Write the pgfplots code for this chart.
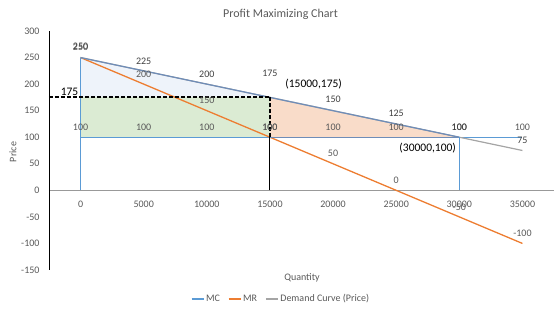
\documentclass[border=0pt]{standalone}
\usepackage{fontspec}
\setmainfont{Carlito}
\usepackage{pgfplots}
\pgfplotsset{compat=1.18}
\definecolor{mcblue}{HTML}{5B9BD5}
\definecolor{mrorange}{HTML}{ED7D31}
\definecolor{dgray}{HTML}{A5A5A5}
\definecolor{slate}{HTML}{6F8DB8}
\definecolor{fillblue}{HTML}{EEF3FA}
\definecolor{fillgreen}{HTML}{DBEBD3}
\definecolor{fillpeach}{HTML}{F9DCC9}
\definecolor{txt}{HTML}{595959}
\definecolor{txtd}{HTML}{404040}

\begin{document}
\begin{tikzpicture}
\useasboundingbox (-49pt,-43pt) rectangle (511pt,270pt);
\begin{axis}[
 at={(0,0)}, anchor=south west,
 scale only axis, width=505pt, height=239pt,
 xmin=-2500, xmax=37500, ymin=-150, ymax=300,
 axis x line=middle, axis y line=left,
 hide obscured x ticks=false, hide obscured y ticks=false,
 x axis line style={draw=black!40, -, line width=0.8pt},
 y axis line style={draw=black, -, line width=0.8pt},
 scaled x ticks=false, scaled y ticks=false,
 xtick={0,5000,10000,15000,20000,25000,30000,35000},
 ytick={-150,-100,-50,0,50,100,150,200,250,300},
 xticklabels={0,5000,10000,15000,20000,25000,30000,35000},
 yticklabels={-150,-100,-50,0,50,100,150,200,250,300},
 major tick length=0pt,
 tick label style={font=\fontsize{10}{12}\selectfont, text=txt},
 xticklabel style={yshift=-7pt},
 yticklabel style={xshift=-6pt},
 /pgf/number format/assume math mode=true,
 clip=false,
 nodes near coords style={font=\fontsize{10}{12}\selectfont, anchor=center, inner sep=0pt},
 legend style={at={(axis description cs:0.4594,-0.1213)}, anchor=center, draw=none, fill=none,
   font=\fontsize{10}{12}\selectfont, text=txt, inner sep=0pt,
   /tikz/every even column/.append style={column sep=6pt}},
 legend columns=3,
 legend image code/.code={\draw[#1, line width=1.2pt] (0pt,0pt) -- (12pt,0pt);},
]
% shaded areas
\addplot[fill=fillblue, draw=none, forget plot] coordinates {(0,175) (0,250) (15000,175)} -- cycle;
\addplot[fill=fillgreen, draw=none, forget plot] coordinates {(0,100) (0,175) (15000,175) (15000,100)} -- cycle;
\addplot[fill=fillpeach, draw=none, forget plot] coordinates {(15000,100) (15000,175) (30000,100)} -- cycle;

% MC
\addplot[mcblue, line width=1.2pt, nodes near coords,
  every node near coord/.append style={yshift=10pt, text=txt}]
  coordinates {(0,100) (5000,100) (10000,100) (15000,100) (20000,100) (25000,100) (30000,100) (35000,100)};
\addlegendentry{MC}

% MR
\addplot[mrorange, line width=1.3pt, nodes near coords,
  every node near coord/.append style={yshift=10pt, text=txt}]
  coordinates {(0,250) (5000,200) (10000,150) (15000,100) (20000,50) (25000,0) (30000,-50) (35000,-100)};
\addlegendentry{MR}

% Demand
\addplot[dgray, line width=1.2pt, nodes near coords,
  visualization depends on={\thisrow{dy}\as\dy},
  every node near coord/.append style={yshift=\dy pt, text=txtd}]
  table[x=x, y=y] {
x y dy
0 250 11
5000 225 10
10000 200 10
15000 175 24
20000 150 11
25000 125 11
30000 100 10
35000 75 10
};
\addlegendentry{Demand Curve (Price)}

% outline segments of the shaded areas
\addplot[slate, line width=1.2pt, forget plot] coordinates {(0,250) (15000,175) (30000,100)};
\addplot[slate, line width=1.2pt, forget plot] coordinates {(15000,100) (30000,100)};
\addplot[mcblue, line width=0.9pt, forget plot] coordinates {(0,0) (0,250)};
\addplot[mcblue, line width=0.9pt, forget plot] coordinates {(30000,0) (30000,100)};

% price / quantity markers
\addplot[black, line width=1.1pt, forget plot] coordinates {(15000,0) (15000,100)};
\addplot[black, line width=1.8pt, dash pattern=on 4pt off 2pt, forget plot] coordinates {(15000,100) (15000,175)};
\addplot[black, line width=1.8pt, dash pattern=on 4pt off 2pt, forget plot] coordinates {(-2500,175) (15000,175)};

\node[font=\fontsize{11.5}{13}\selectfont, text=black, inner sep=0pt] at (axis cs:-870,185) {175};
\node[font=\fontsize{11.5}{13}\selectfont, text=black, inner sep=0pt] at (axis cs:18463,200) {(15000,175)};
\node[font=\fontsize{11.5}{13}\selectfont, text=black, inner sep=0pt] at (axis cs:27496,79) {(30000,100)};
\end{axis}
\node[font=\fontsize{12}{14}\selectfont, text=txt] at (231.5pt,256pt) {Profit Maximizing Chart};
\node[font=\fontsize{10}{12}\selectfont, text=txt, rotate=90] at (-36pt,118pt) {Price};
\node[font=\fontsize{10}{12}\selectfont, text=txt] at (253pt,-8pt) {Quantity};
\end{tikzpicture}
\end{document}
